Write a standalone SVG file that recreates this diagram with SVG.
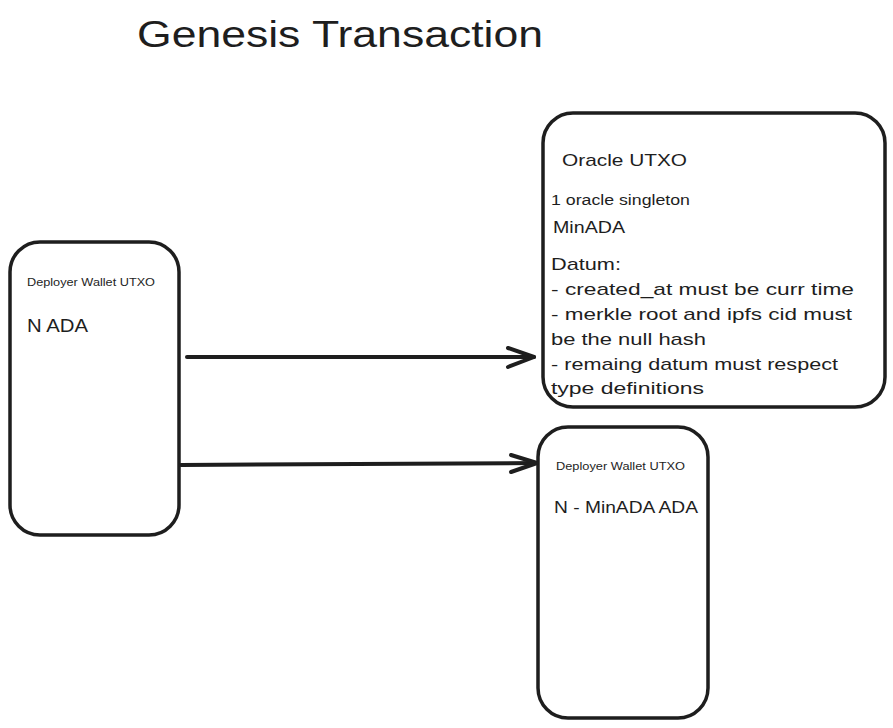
<svg xmlns="http://www.w3.org/2000/svg" width="893" height="728" viewBox="0 0 893 728">
  <style>
    .box { fill: #ffffff; stroke: #1e1e1e; stroke-width: 3.5; }
    .t { font-family: "Liberation Sans", "DejaVu Sans", sans-serif; fill: #1e1e1e; }
    .edge { fill: none; stroke: #1e1e1e; stroke-width: 4; stroke-linecap: round; stroke-linejoin: round; }
  </style>
  <rect width="893" height="728" fill="#ffffff"/>
  <g id="title">
    <text class="t" x="137" y="47" font-size="36" textLength="406" lengthAdjust="spacingAndGlyphs">Genesis Transaction</text>
  </g>
  <g id="deployer-input">
    <rect class="box" x="10" y="242" width="169" height="293" rx="30" ry="30"/>
    <text class="t" x="27" y="286" font-size="10.5" textLength="128" lengthAdjust="spacingAndGlyphs">Deployer Wallet UTXO</text>
    <text class="t" x="27" y="332" font-size="18" textLength="61" lengthAdjust="spacingAndGlyphs">N ADA</text>
  </g>
  <g id="oracle-utxo">
    <rect class="box" x="543" y="113" width="342" height="294" rx="30" ry="30"/>
    <text class="t" x="562" y="166" font-size="17" textLength="125" lengthAdjust="spacingAndGlyphs">Oracle UTXO</text>
    <text class="t" x="551" y="205" font-size="14" textLength="139" lengthAdjust="spacingAndGlyphs">1 oracle singleton</text>
    <text class="t" x="553" y="233" font-size="17" textLength="72" lengthAdjust="spacingAndGlyphs">MinADA</text>
    <text class="t" x="551" y="270" font-size="17" textLength="70" lengthAdjust="spacingAndGlyphs">Datum:</text>
    <text class="t" x="551" y="295" font-size="17" textLength="303" lengthAdjust="spacingAndGlyphs">- created_at must be curr time</text>
    <text class="t" x="551" y="320" font-size="17" textLength="301" lengthAdjust="spacingAndGlyphs">- merkle root and ipfs cid must</text>
    <text class="t" x="551" y="345" font-size="17" textLength="155" lengthAdjust="spacingAndGlyphs">be the null hash</text>
    <text class="t" x="551" y="370" font-size="17" textLength="287" lengthAdjust="spacingAndGlyphs">- remaing datum must respect</text>
    <text class="t" x="551" y="394" font-size="17" textLength="153" lengthAdjust="spacingAndGlyphs">type definitions</text>
  </g>
  <g id="deployer-output">
    <rect class="box" x="538" y="427" width="170" height="291" rx="30" ry="30"/>
    <text class="t" x="556" y="470" font-size="10.5" textLength="129" lengthAdjust="spacingAndGlyphs">Deployer Wallet UTXO</text>
    <text class="t" x="554" y="513" font-size="17" textLength="144" lengthAdjust="spacingAndGlyphs">N - MinADA ADA</text>
  </g>
  <g id="connectors">
    <path class="edge" d="M187 357 L534 357"/>
    <path class="edge" d="M508 348 L534 357 L508 367"/>
    <path class="edge" d="M181 465 L537 463"/>
    <path class="edge" d="M511 455 L537 463 L511 472"/>
  </g>
</svg>
